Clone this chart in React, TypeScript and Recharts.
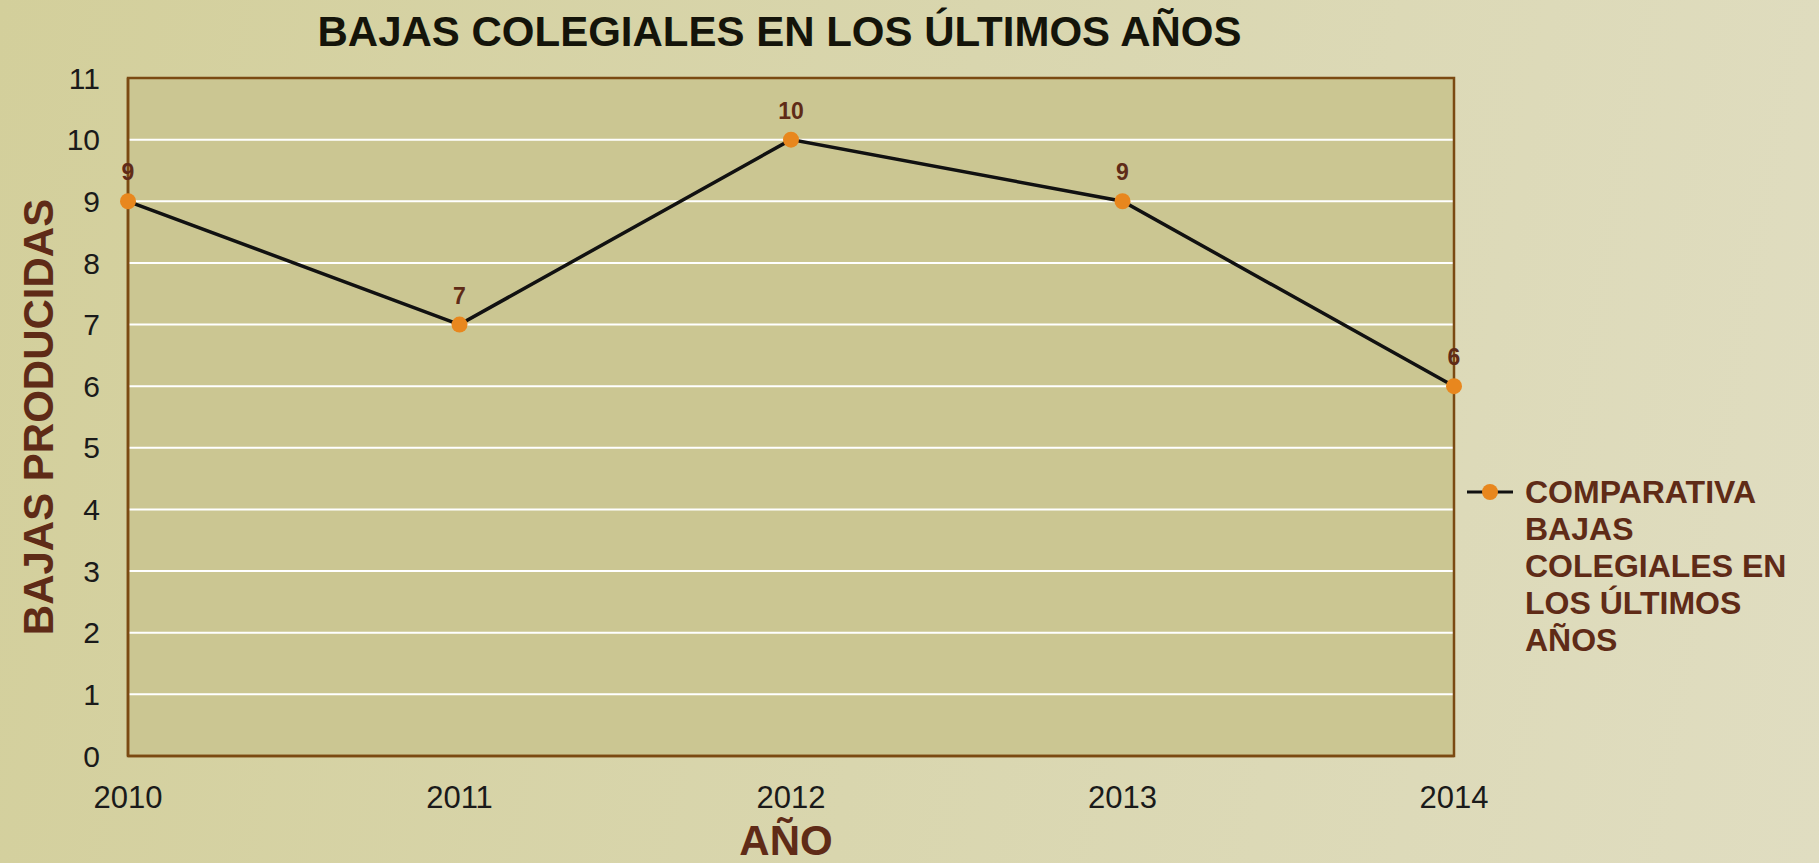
import React from 'react';
import {
  LineChart, Line, XAxis, YAxis, CartesianGrid, Legend, LabelList, ReferenceArea,
} from 'recharts';

const years = ['2010', '2011', '2012', '2013', '2014'];
const bajas = [9, 7, 10, 9, 6];
const yTicks = [0, 1, 2, 3, 4, 5, 6, 7, 8, 9, 10, 11];

const seriesName = 'COMPARATIVA BAJAS COLEGIALES EN LOS ÚLTIMOS AÑOS';
const legendLines = ['COMPARATIVA', 'BAJAS', 'COLEGIALES EN', 'LOS ÚLTIMOS', 'AÑOS'];

const data = years.map((y, i) => ({ year: y, bajas: bajas[i] }));

const BROWN = '#5f2b17';
const ORANGE = '#e8871e';
const FONT = '"Liberation Sans", Arial, sans-serif';

const YLabel = ({ viewBox }: any) => {
  const cx = viewBox.x + 38;
  const cy = viewBox.y + viewBox.height / 2;
  return (
    <text x={cx} y={cy} transform={`rotate(-90, ${cx}, ${cy})`} textAnchor="middle"
      dominantBaseline="central" fill={BROWN} fontSize={42} fontWeight="bold" fontFamily={FONT}>
      BAJAS PRODUCIDAS
    </text>
  );
};

const XLabel = ({ viewBox }: any) => {
  const cx = viewBox.x + viewBox.width / 2 - 5;
  return (
    <text x={cx} y={viewBox.y + 84} textAnchor="middle" dominantBaseline="central"
      fill={BROWN} fontSize={42} fontWeight="bold" fontFamily={FONT}>
      AÑO
    </text>
  );
};

const LegendBox = () => (
  <div style={{ display: 'flex', alignItems: 'flex-start', fontFamily: FONT }}>
    <svg width={50} height={37} style={{ flex: 'none' }}>
      <line x1={2} y1={18} x2={48} y2={18} stroke="#111" strokeWidth={3} />
      <circle cx={25} cy={18} r={8} fill={ORANGE} />
    </svg>
    <div style={{ marginLeft: 10, color: BROWN, fontSize: 32, fontWeight: 'bold', lineHeight: '37px' }}>
      {legendLines.map((l) => <div key={l}>{l}</div>)}
    </div>
  </div>
);

export default function App() {
  return (
    <div style={{
      position: 'relative', width: 1819, height: 863,
      background: 'linear-gradient(100deg, #d3cf9b 0%, #d9d6ae 50%, #e0ddc1 100%)',
    }}>
      <style>{'body{margin:0}'}</style>
      <div style={{
        position: 'absolute', top: 8, left: 0, width: 1559, textAlign: 'center',
        fontFamily: FONT, fontWeight: 'bold', fontSize: 42, color: '#14140a',
      }}>
        BAJAS COLEGIALES EN LOS ÚLTIMOS AÑOS
      </div>
      <LineChart width={1819} height={863} data={data}
        margin={{ top: 78, right: 365, bottom: 0, left: 0 }}>
        <CartesianGrid vertical={false} stroke="#ffffff" strokeWidth={2}
          fill="#cbc692" fillOpacity={1} />
        <ReferenceArea x1="2010" x2="2014" y1={0} y2={11} fill="none"
          stroke="#7b4a12" strokeWidth={2.5} />
        <XAxis dataKey="year" height={107} tickLine={false} tickSize={0} tickMargin={30}
          axisLine={{ stroke: '#7b4a12', strokeWidth: 2.5 }} interval={0}
          tick={{ fill: '#1a1a1a', fontSize: 31, fontFamily: FONT }}
          label={<XLabel />} />
        <YAxis width={128} domain={[0, 11]} ticks={yTicks} interval={0} tickLine={false}
          tickSize={0} tickMargin={28} axisLine={{ stroke: '#7b4a12', strokeWidth: 2.5 }}
          tick={{ fill: '#1a1a1a', fontSize: 30, fontFamily: FONT }}
          label={<YLabel />} />
        <Legend layout="horizontal" verticalAlign="middle" align="center"
          wrapperStyle={{ position: 'absolute', left: 1465, top: 474, width: 354 }}
          content={() => <LegendBox />} />
        <Line dataKey="bajas" name={seriesName} stroke="#111111" strokeWidth={3.5}
          dot={{ r: 8, fill: ORANGE, stroke: 'none' }} activeDot={false}
          isAnimationActive={false}>
          <LabelList dataKey="bajas" position="top" offset={21} fill={BROWN}
            fontSize={23} fontWeight="bold" fontFamily={FONT} />
        </Line>
      </LineChart>
    </div>
  );
}
